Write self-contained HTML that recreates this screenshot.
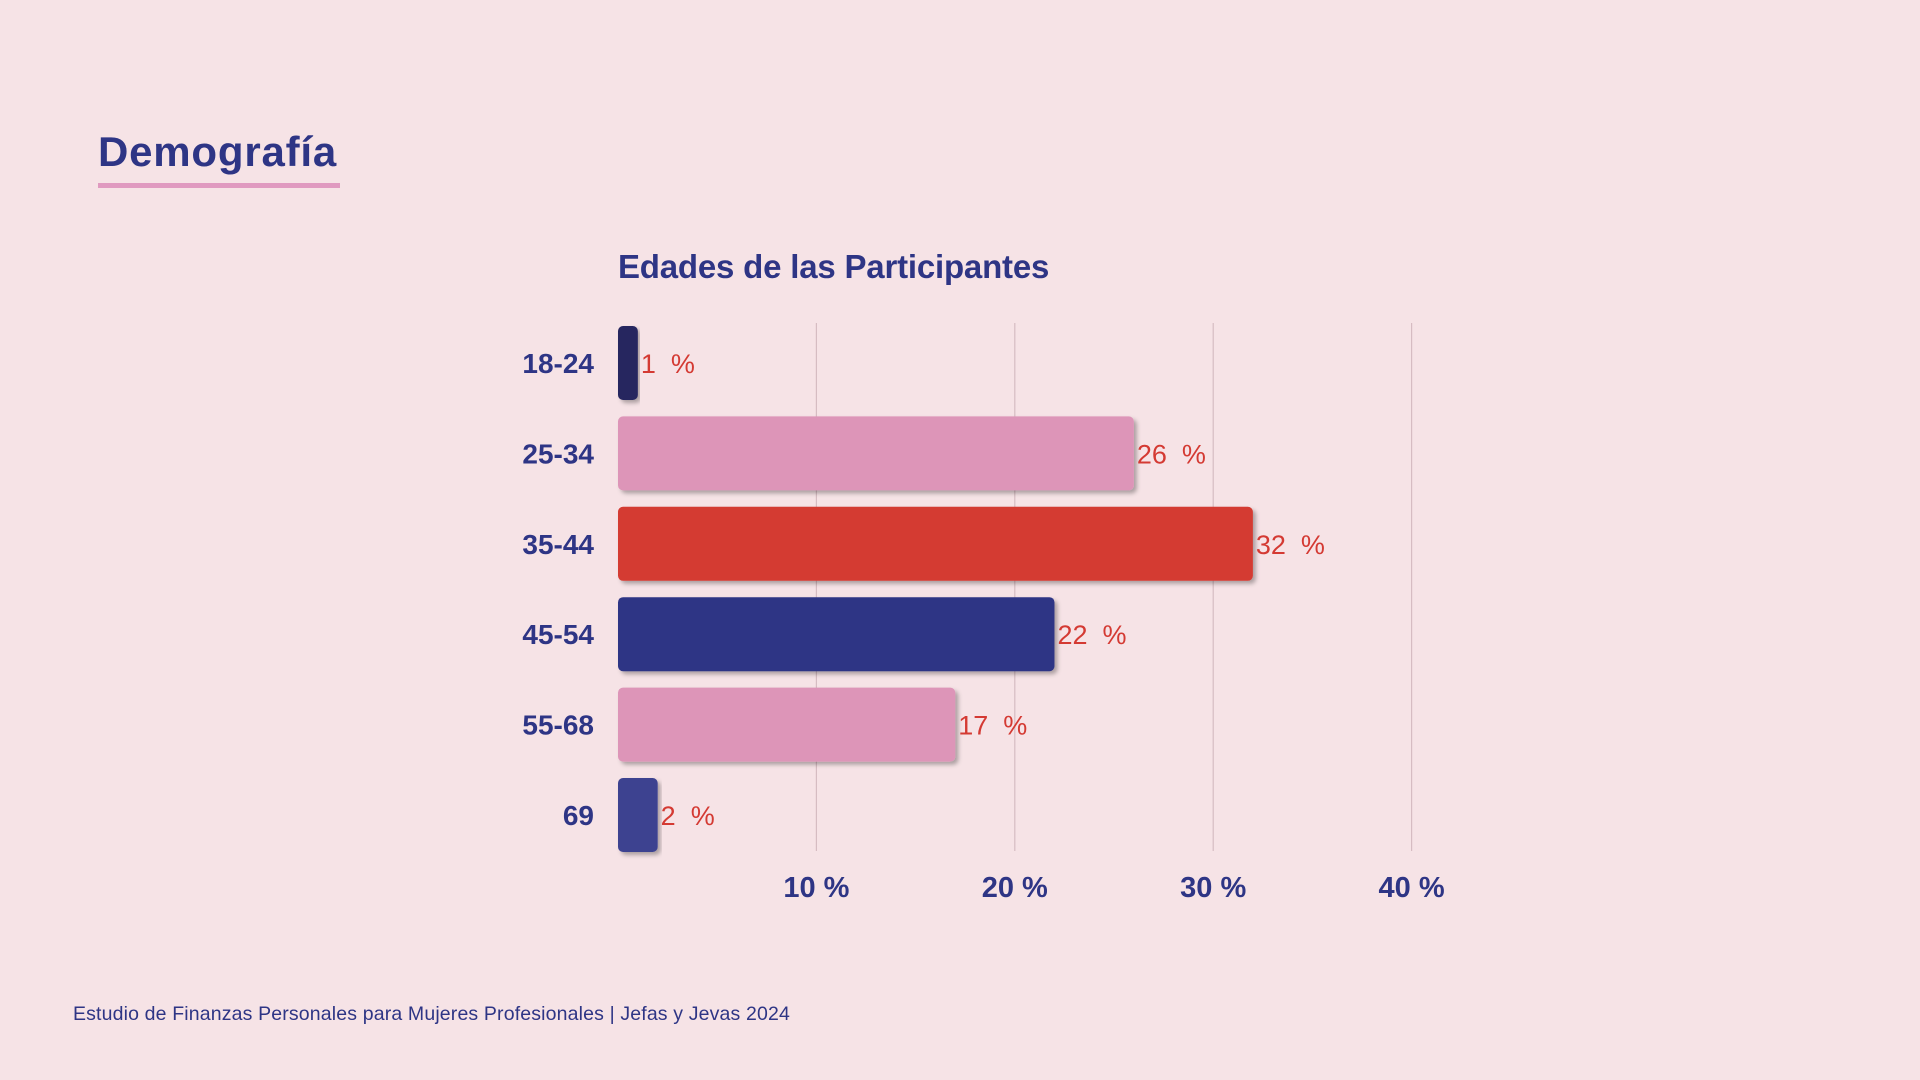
<!DOCTYPE html>
<html><head><meta charset="utf-8">
<style>
html,body{margin:0;padding:0;background:#f6e3e6;}
svg{display:block;font-family:"Liberation Sans",sans-serif;}
</style></head>
<body>
<svg id="chart" width="1920" height="1080" viewBox="0 0 1920 1080">
<defs>
<filter id="sh" x="-5%" y="-20%" width="115%" height="150%">
<feDropShadow dx="3" dy="3" stdDeviation="2" flood-color="#000" flood-opacity="0.3"/>
</filter>
</defs>
<rect x="0" y="0" width="1920" height="1080" fill="#f6e3e6"/>
<text x="98" y="166" font-size="42" font-weight="bold" fill="#2e3585" letter-spacing="0.8">Demografía</text>
<rect x="98" y="183" width="242" height="5" fill="#e09ac0"/>
<text x="618" y="278" font-size="33" font-weight="bold" fill="#2e3585" letter-spacing="-0.2">Edades de las Participantes</text>
<g id="grid"></g>
<g id="bars"></g>
<g id="ticks"></g>
<text x="73" y="1020" font-size="19.5" fill="#2e3585" letter-spacing="0.15">Estudio de Finanzas Personales para Mujeres Profesionales | Jefas y Jevas 2024</text>
</svg>
<script>
const categories = ["18-24","25-34","35-44","45-54","55-68","69"];
const values = [1,26,32,22,17,2];
const barColors = ["#25275e","#dd95b8","#d43a33","#2e3585","#dd95b8","#3d4290"];
const tickValues = [10,20,30,40];
const tickLabels = ["10 %","20 %","30 %","40 %"];

const NS = "http://www.w3.org/2000/svg";
const x0 = 618, pxPer = 19.84;
const xScale = v => x0 + v * pxPer;
const rowTop = 323, rowStep = 90.4, barH = 74;
const yCenter = i => rowTop + rowStep * i + 40;
function mk(tag, attrs, parent){const e=document.createElementNS(NS,tag);for(const k in attrs)e.setAttribute(k,attrs[k]);parent.appendChild(e);return e;}
const grid=document.getElementById('grid'), bars=document.getElementById('bars'), ticks=document.getElementById('ticks');
tickValues.forEach((t,i)=>{
  const l=mk('line',{x1:xScale(t),x2:xScale(t),y1:323,y2:851,stroke:'#d6bcc2','stroke-width':1.2},grid);
  
  
  const tx=mk('text',{x:xScale(t),y:897,'font-size':29,'font-weight':'bold',fill:'#2e3585','text-anchor':'middle'},ticks);
  tx.textContent=tickLabels[i];
  
  
});
categories.forEach((c,i)=>{
  const cy=yCenter(i);
  const lab=mk('text',{x:594,y:cy+10,'font-size':28,'font-weight':'bold',fill:'#2e3585','text-anchor':'end'},bars);
  lab.textContent=c;
  
  
  const w=Math.max(xScale(values[i])-x0,8);
  const r=mk('rect',{x:x0,y:cy-barH/2,width:w,height:barH,rx:5,fill:barColors[i],filter:'url(#sh)'},bars);
  
  
  const v=mk('text',{x:x0+w+3,y:cy+10,'font-size':27,fill:'#d43a33'},bars);
  v.textContent=values[i]+'  %';
  v.setAttribute('xml:space','preserve');
  v.style.whiteSpace='pre';
  
  
});
</script>
</body></html>
